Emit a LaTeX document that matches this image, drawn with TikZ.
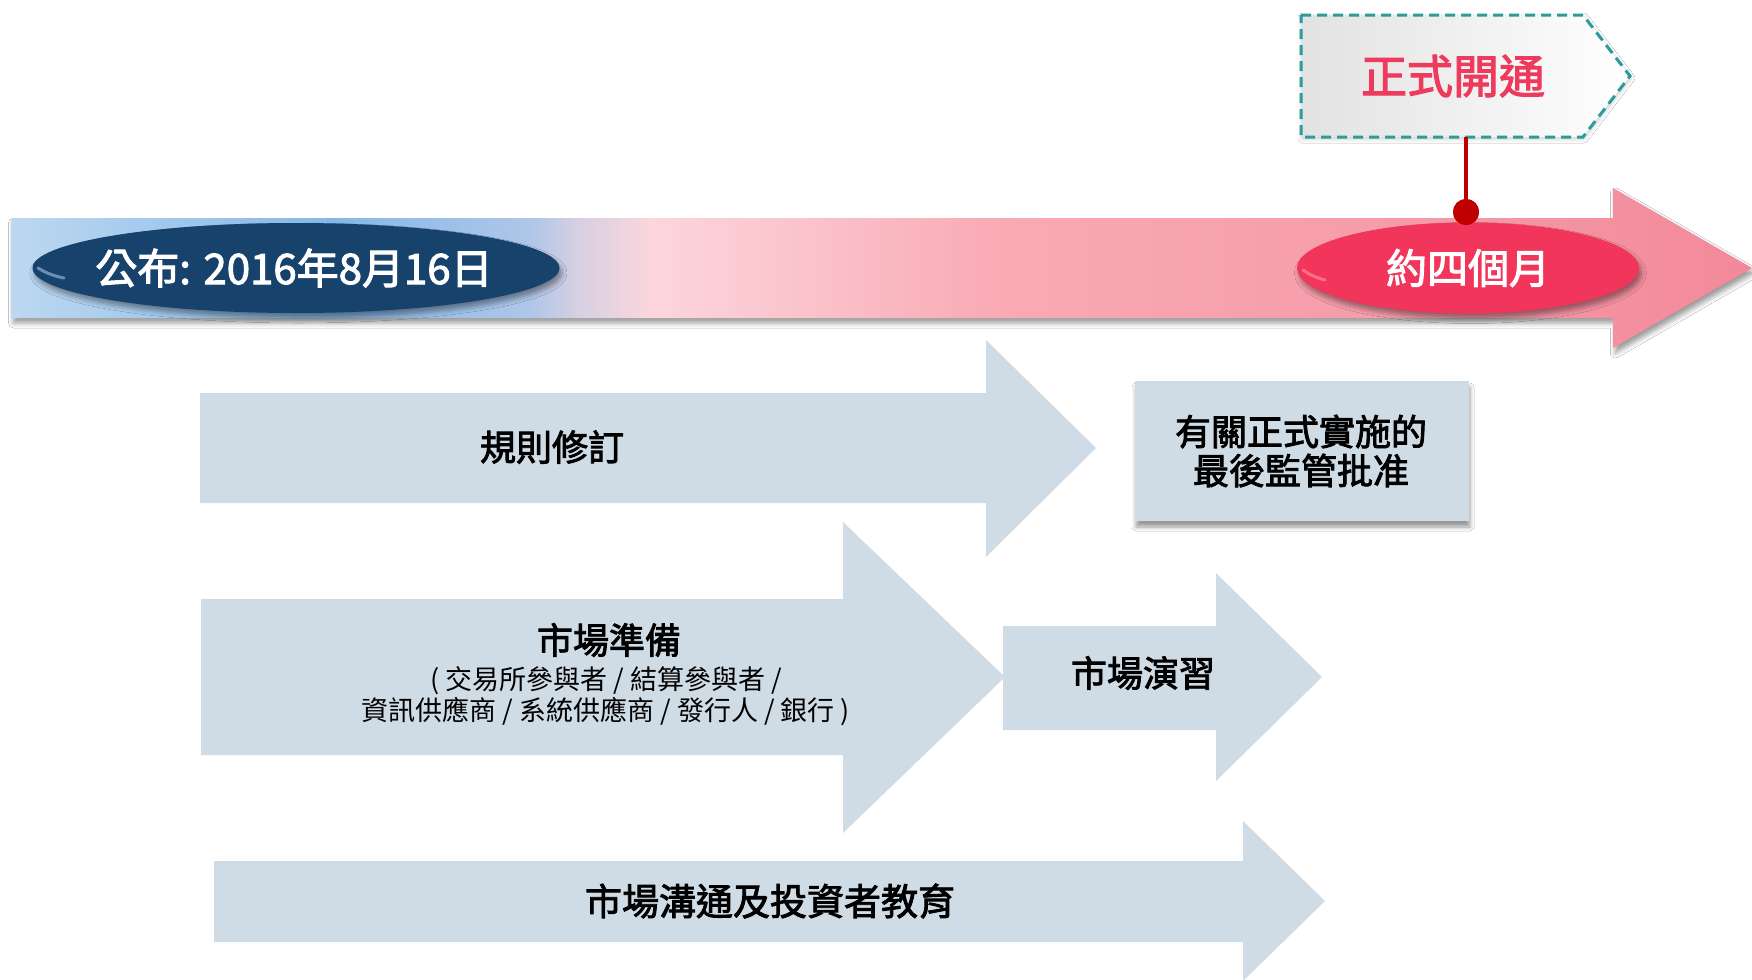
\documentclass[tikz,border=0pt]{standalone}
\usepackage{fontspec}
\setmainfont{Noto Sans CJK TC}
\newfontfamily\medfont[FakeBold=2.4]{Noto Sans CJK TC}
\usetikzlibrary{shapes.geometric,shadows.blur}
\definecolor{navy}{HTML}{17426C}
\definecolor{navyhi}{HTML}{7FA3C6}
\definecolor{crim}{HTML}{F2355A}
\definecolor{crimhi}{HTML}{FF7E98}
\definecolor{dotred}{HTML}{C00000}
\definecolor{tealdash}{HTML}{2A9C9C}
\definecolor{pinktxt}{HTML}{EE3A5C}
\definecolor{steel}{HTML}{CFDCE6}
\definecolor{boxL}{HTML}{E2E2E2}
\definecolor{tlA}{HTML}{BDD8F0}
\definecolor{tlB}{HTML}{84B8E8}
\definecolor{tlC}{HTML}{AFC6E8}
\definecolor{tlD}{HTML}{D6D0E2}
\definecolor{tlE}{HTML}{FCD6DC}
\definecolor{tlF}{HTML}{F9AAB5}
\definecolor{tlG}{HTML}{F69BA9}
\definecolor{tlH}{HTML}{F2899A}
\pgfdeclarehorizontalshading{timeline}{100bp}{color(0bp)=(tlA); color(25bp)=(tlA); color(34.2bp)=(tlB); color(39.9bp)=(tlC); color(41.3bp)=(tlD); color(43.4bp)=(tlE); color(53.4bp)=(tlF); color(64.9bp)=(tlG); color(75bp)=(tlH); color(100bp)=(tlH)}
\begin{document}
\begin{tikzpicture}[x=0.5pt,y=-0.5pt,
  softshadow/.style={blur shadow={shadow xshift=1.2pt, shadow yshift=-2.5pt, shadow blur radius=2.5pt, shadow opacity=40}},
  stepbar/.style={fill=steel},
  lbl/.style={font=\fontsize{18pt}{21pt}\selectfont\medfont, text=black, align=center, inner sep=0pt},
  pilltext/.style={inner sep=0pt, text=white}]
\useasboundingbox (0,0) rectangle (1752,980);
\fill[white] (0,0) rectangle (1752,980);

% timeline arrow
\path[shading=timeline, softshadow] (11,218) -- (1613,218) -- (1613,188) -- (1752,268) -- (1613,348) -- (1613,318) -- (11,318) -- cycle;

% publication pill
\fill[navy, softshadow] (296,268) ellipse [x radius=263.5, y radius=45];
\draw[navyhi, line width=1.5pt, line cap=round, opacity=0.8] (38,268) .. controls (46,273) and (54,276) .. (64,278);
\node[pilltext, font=\fontsize{21pt}{24pt}\selectfont\medfont] (pub) at (294,268) {公布: 2016年8月16日};

% four-month pill
\fill[crim, softshadow] (1468,268) ellipse [x radius=171, y radius=45.5];
\draw[crimhi, line width=1.5pt, line cap=round, opacity=0.8] (1303,270) .. controls (1310,275) and (1317,278) .. (1325,280);
\node[pilltext, font=\fontsize{20.5pt}{24pt}\selectfont\medfont] (four) at (1468,268) {約四個月};

% go-live tag
\path[left color=boxL, right color=white, draw=tealdash, dash pattern=on 5pt off 3pt, line width=1.5pt,
      blur shadow={shadow xshift=0.5pt, shadow yshift=-1pt, shadow blur radius=2pt, shadow opacity=20}]
  (1301,15) -- (1583,15) -- (1630,76) -- (1583,137) -- (1301,137) -- cycle;
\node[font=\fontsize{23pt}{26pt}\selectfont\medfont, text=pinktxt, inner sep=0pt] (open) at (1453,76) {正式開通};
\coordinate (boxbot) at (1466,137);
\node[circle, fill=dotred, minimum size=13pt, inner sep=0pt] (dot) at (1466,212) {};
\draw[dotred, line width=2pt] (boxbot) -- (dot.center);
\fill[dotred] (dot.center) circle [radius=13];

% work-stream arrows
\path[stepbar] (200,393) -- (986,393) -- (986,340) -- (1096,448) -- (986,557) -- (986,503) -- (200,503) -- cycle;
\path[stepbar] (201,599) -- (843,599) -- (843,522) -- (1005,677) -- (843,833) -- (843,755) -- (201,755) -- cycle;
\path[stepbar] (1003,626) -- (1216,626) -- (1216,573) -- (1322,677) -- (1216,781) -- (1216,730) -- (1003,730) -- cycle;
\path[stepbar] (214,861) -- (1243,861) -- (1243,821) -- (1325,901) -- (1243,981) -- (1243,942) -- (214,942) -- cycle;
\path[stepbar, blur shadow={shadow xshift=0.5pt, shadow yshift=-3pt, shadow blur radius=2pt, shadow opacity=40}] (1135,381) rectangle (1469,521);

\node[lbl] (rules) at (552,447) {規則修訂};
\node[lbl, font=\fontsize{18pt}{19.5pt}\selectfont\medfont] (approval) at (1301,451) {有關正式實施的\\最後監管批准};
\node[lbl] (prep) at (609,640) {市場準備};
\node[lbl, font=\fontsize{13.5pt}{13pt}\selectfont] (prepsub) at (606,696) {( 交易所參與者 / 結算參與者 /\\資訊供應商 / 系統供應商 / 發行人 / 銀行 )};
\node[lbl] (drill) at (1143,673) {市場演習};
\node[lbl, font=\fontsize{18.5pt}{21pt}\selectfont\medfont] (comm) at (770,901) {市場溝通及投資者教育};
\end{tikzpicture}
\end{document}
